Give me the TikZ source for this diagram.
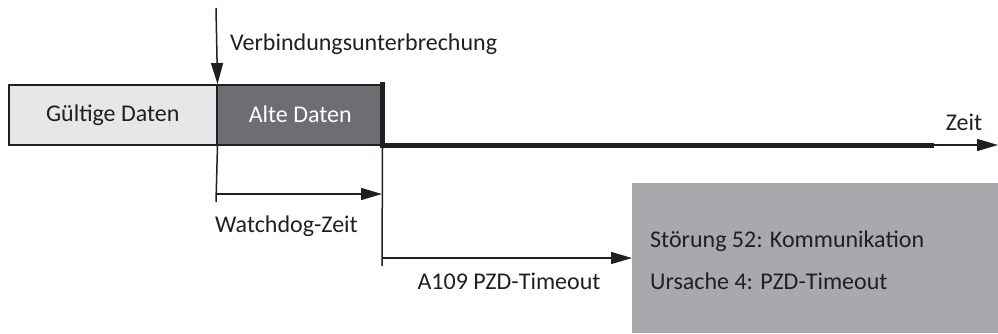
\documentclass[tikz,border=0pt]{standalone}
\usepackage{fontspec}
\setmainfont{Carlito}
\usetikzlibrary{arrows.meta}
\definecolor{validfill}{HTML}{E6E7E8}
\definecolor{oldfill}{HTML}{6D6E71}
\definecolor{faultfill}{HTML}{A7A9AC}
\definecolor{ink}{HTML}{231F20}
\tikzset{
  x=1pt, y=-1pt,
  thin line/.style={draw=ink, line width=1.5pt},
  thick line/.style={draw=ink, line width=5pt},
  tip/.style={-{Triangle[length=21pt,width=12pt]}},
  databox/.style={thin line, anchor=north west, minimum height=60pt,
    inner sep=0pt, font=\fontsize{24}{28}\selectfont},
  label/.style={font=\fontsize{24}{28}\selectfont, text=ink, inner sep=0pt},
}
\begin{document}
\begin{tikzpicture}
\useasboundingbox (0,0) rectangle (998,333);

% data blocks
\node[databox, fill=validfill, minimum width=208pt, text=ink] (gd) at (8,84) {Gültige Daten};
\node[databox, fill=oldfill, minimum width=167pt, text=white] (ad) at (216,84) {Alte Daten};

% fault message box
\node[fill=faultfill, anchor=north west, minimum width=366pt, minimum height=150pt, inner sep=0pt] (fb) at (632,183) {};
\node[label, anchor=west] (m1) at (650,241) {Störung 52: Kommunikation};
\node[label, anchor=west] (m2) at (650,281) {Ursache 4: PZD-Timeout};

% time axis
\coordinate (top) at (216,8);
\coordinate (edgeT) at (382.5,82);
\coordinate (edgeB) at (382.5,147.5);
\coordinate (axA) at (380,145);
\coordinate (axB) at (934,145);
\coordinate (axE) at (998,145);
\draw[thick line] (edgeT) -- (edgeB);
\draw[thick line] (axA) -- (axB);
\draw[thin line, tip] (axB) -- (axE);
\node[label, anchor=center] (zeit) at (964,122) {Zeit};

% connection loss marker
\draw[thin line, tip] (top) -- (gd.north east);
\node[label, anchor=west] (vu) at (230,44) {Verbindungsunterbrechung};

% watchdog interval
\coordinate (w0) at (216,202);
\coordinate (w1) at (216,194);
\coordinate (w2) at (382,194);
\draw[thin line] (gd.south east) -- (w0);
\draw[thin line, tip] (w1) -- (w2);
\node[label, anchor=west] (wd) at (215,226) {Watchdog-Zeit};

% PZD timeout interval
\coordinate (p0) at (382,266);
\coordinate (p1) at (382,258);
\draw[thin line] (edgeB) -- (p0);
\draw[thin line, tip] (p1) -- (fb.west |- p1);
\node[label, anchor=center] (pzd) at (509,281) {A109 PZD-Timeout};
\end{tikzpicture}
\end{document}
